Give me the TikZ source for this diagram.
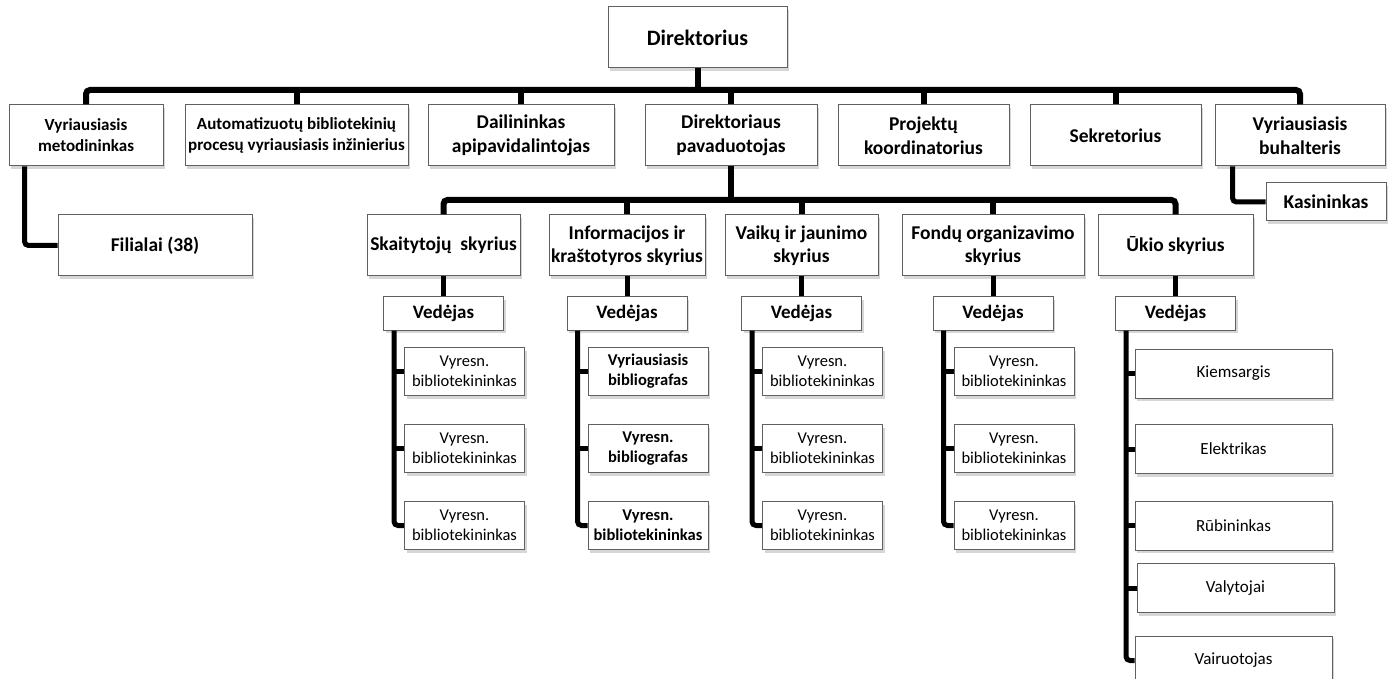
\documentclass[tikz,border=0pt]{standalone}
\usepackage{fontspec}
\setmainfont{Carlito}
\usetikzlibrary{shadows}

\tikzset{
  box/.style={draw=gray!75!black, line width=1pt, fill=white, align=center, inner sep=1pt,
    drop shadow={shadow xshift=2pt, shadow yshift=-3pt, fill=black!40, opacity=0.4}},
  head/.style={box, font=\fontsize{19.5}{23.5}\selectfont\bfseries, minimum height=61pt},
  headsm/.style={box, font=\fontsize{17}{21}\selectfont\bfseries, minimum height=61pt},
  chief/.style={box, font=\fontsize{19}{22}\selectfont\bfseries, minimum width=120pt, minimum height=33pt},
  leaf/.style={box, font=\fontsize{16.5}{20}\selectfont, minimum width=120pt, minimum height=48pt},
  leafb/.style={leaf, font=\fontsize{16.5}{20}\selectfont\bfseries},
  job/.style={box, font=\fontsize{17}{20}\selectfont, minimum width=197pt, minimum height=49pt},
  bar/.style={line width=6pt, rounded corners=4pt},
  conn/.style={line width=5pt, rounded corners=4pt}
}

\begin{document}
\begin{tikzpicture}[x=1pt, y=-1pt]
\useasboundingbox[fill=white] (0,0) rectangle (1393,679);

% vadovybe
\node[head, font=\fontsize{22}{26}\selectfont\bfseries, minimum width=179pt] (dir) at (697.5,37.5) {Direktorius};
\node[headsm, minimum width=154pt] (metod) at (86,135.5) {Vyriausiasis\\metodininkas};
\node[headsm, minimum width=223pt] (autom) at (296.5,135.5) {Automatizuotų bibliotekinių\\procesų vyriausiasis inžinierius};
\node[head, minimum width=186pt] (dail) at (521,135.5) {Dailininkas\\apipavidalintojas};
\node[head, minimum width=172pt] (pav) at (731,135.5) {Direktoriaus\\pavaduotojas};
\node[head, minimum width=171pt] (proj) at (923.5,135.5) {Projektų\\koordinatorius};
\node[head, minimum width=171pt] (sekr) at (1115.5,135.5) {Sekretorius};
\node[head, minimum width=170pt] (buh) at (1300,135.5) {Vyriausiasis\\buhalteris};
\node[head, minimum width=194pt] (fil) at (155,245.5) {Filialai (38)};
\node[head, minimum width=120pt, minimum height=38pt] (kas) at (1326,202) {Kasininkas};

% skyriai
\node[head, minimum width=153pt] (skait) at (443.5,245.5) {Skaitytojų~ skyrius};
\node[head, minimum width=156pt] (info) at (627,245.5) {Informacijos ir\\kraštotyros skyrius};
\node[head, minimum width=153pt] (vaik) at (801.5,245.5) {Vaikų ir jaunimo\\skyrius};
\node[head, minimum width=182pt] (fond) at (993,245.5) {Fondų organizavimo\\skyrius};
\node[head, minimum width=155pt] (ukio) at (1175.5,245.5) {Ūkio skyrius};

\node[chief] (ved1) at (443.5,313.5) {Vedėjas};
\node[chief] (ved2) at (627,313.5) {Vedėjas};
\node[chief] (ved3) at (801.5,313.5) {Vedėjas};
\node[chief] (ved4) at (993,313.5) {Vedėjas};
\node[chief] (ved5) at (1175.5,313.5) {Vedėjas};

% darbuotojai
\node[leaf] (s11) at (464.5,371.5) {Vyresn.\\bibliotekininkas};
\node[leaf] (s12) at (464.5,448.5) {Vyresn.\\bibliotekininkas};
\node[leaf] (s13) at (464.5,525.5) {Vyresn.\\bibliotekininkas};
\node[leafb] (s21) at (648,371.5) {Vyriausiasis\\bibliografas};
\node[leafb] (s22) at (648,448.5) {Vyresn.\\bibliografas};
\node[leafb] (s23) at (648,525.5) {Vyresn.\\bibliotekininkas};
\node[leaf] (s31) at (822.5,371.5) {Vyresn.\\bibliotekininkas};
\node[leaf] (s32) at (822.5,448.5) {Vyresn.\\bibliotekininkas};
\node[leaf] (s33) at (822.5,525.5) {Vyresn.\\bibliotekininkas};
\node[leaf] (s41) at (1014,371.5) {Vyresn.\\bibliotekininkas};
\node[leaf] (s42) at (1014,448.5) {Vyresn.\\bibliotekininkas};
\node[leaf] (s43) at (1014,525.5) {Vyresn.\\bibliotekininkas};
\node[job] (s51) at (1233.5,373.5) {Kiemsargis};
\node[job] (s52) at (1233.5,449) {Elektrikas};
\node[job] (s53) at (1233.5,525.5) {Rūbininkas};
\node[job] (s54) at (1235.5,588) {Valytojai};
\node[job] (s55) at (1233.5,660.5) {Vairuotojas};

% linijos
\coordinate (t0) at (697.5,90);
\coordinate (t1) at (731,200);
\draw[bar] (dir.south) -- (t0);
\draw[bar] (metod.north) -- (metod.north |- t0) -- (buh.north |- t0) -- (buh.north);
\draw[bar] (autom.north |- t0) -- (autom.north);
\draw[bar] (dail.north |- t0) -- (dail.north);
\draw[bar] (pav.north |- t0) -- (pav.north);
\draw[bar] (proj.north |- t0) -- (proj.north);
\draw[bar] (sekr.north |- t0) -- (sekr.north);

\coordinate (cf) at ([xshift=16pt]metod.south west);
\coordinate (ck) at ([xshift=18pt]buh.south west);
\draw[conn] (cf) |- (fil.west);
\draw[conn] (ck) |- (kas.west);

\draw[bar] (pav.south) -- (t1);
\draw[bar] (skait.north) -- (skait.north |- t1) -- (ukio.north |- t1) -- (ukio.north);
\draw[bar] (info.north |- t1) -- (info.north);
\draw[bar] (vaik.north |- t1) -- (vaik.north);
\draw[bar] (fond.north |- t1) -- (fond.north);

\draw[conn] (skait.south) -- (ved1.north);
\draw[conn] (info.south) -- (ved2.north);
\draw[conn] (vaik.south) -- (ved3.north);
\draw[conn] (fond.south) -- (ved4.north);
\draw[conn] (ukio.south) -- (ved5.north);

\coordinate (c1) at ([xshift=11pt]ved1.south west);
\coordinate (c2) at ([xshift=11pt]ved2.south west);
\coordinate (c3) at ([xshift=11pt]ved3.south west);
\coordinate (c4) at ([xshift=11pt]ved4.south west);
\coordinate (c5) at ([xshift=11pt]ved5.south west);

\draw[conn] (c1) |- (s13.west);
\draw[conn] (c1 |- s11.west) -- (s11.west);
\draw[conn] (c1 |- s12.west) -- (s12.west);
\draw[conn] (c2) |- (s23.west);
\draw[conn] (c2 |- s21.west) -- (s21.west);
\draw[conn] (c2 |- s22.west) -- (s22.west);
\draw[conn] (c3) |- (s33.west);
\draw[conn] (c3 |- s31.west) -- (s31.west);
\draw[conn] (c3 |- s32.west) -- (s32.west);
\draw[conn] (c4) |- (s43.west);
\draw[conn] (c4 |- s41.west) -- (s41.west);
\draw[conn] (c4 |- s42.west) -- (s42.west);
\draw[conn] (c5) |- (s55.west);
\draw[conn] (c5 |- s51.west) -- (s51.west);
\draw[conn] (c5 |- s52.west) -- (s52.west);
\draw[conn] (c5 |- s53.west) -- (s53.west);
\draw[conn] (c5 |- s54.west) -- (s54.west);
\end{tikzpicture}
\end{document}
